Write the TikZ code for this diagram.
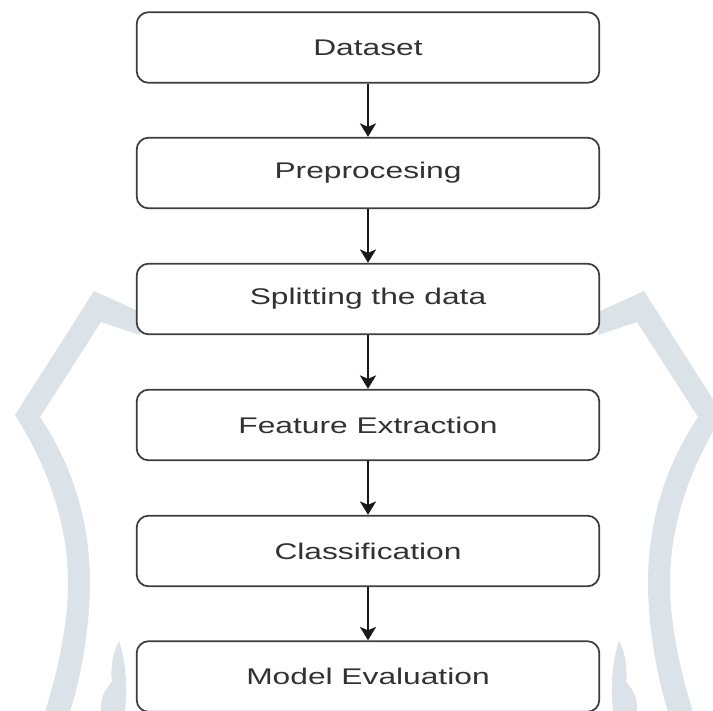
\documentclass[tikz,border=0pt]{standalone}
\usepackage{fontspec}
\setmainfont{Liberation Sans}[FakeStretch=1.4]
\usetikzlibrary{arrows.meta}

\begin{document}
\begin{tikzpicture}[x=0.75pt,y=0.75pt,yscale=-1,xscale=1,
  stage/.style={draw={rgb,255:red,60;green,60;blue,60}, line width=1.3pt, fill=white,
    rounded corners=9pt, minimum width=347pt, minimum height=53pt, inner sep=0pt,
    text={rgb,255:red,50;green,50;blue,50}, font=\fontsize{17}{20}\selectfont},
  flow/.style={draw={rgb,255:red,25;green,25;blue,25}, line width=2.2pt,
    -{Stealth[length=10pt,width=12pt,inset=2.5pt]}},
  logo/.style={fill={rgb,255:red,220;green,227;blue,232}, draw=none}]
\useasboundingbox (0,0) rectangle (713,710);

%Watermark (left half, mirrored for the right)
\foreach \side in {1,-1}{
\begin{scope}[shift={(369-369*\side,0)}, xscale=\side]
\path[logo] (140,312) -- (94,291) -- (15,415) .. controls (45,462) and (68,520) .. (68,583) .. controls (68,630) and (55,680) .. (45,712) -- (70,712) .. controls (80,680) and (90,630) .. (90,583) .. controls (90,520) and (72,465) .. (40,417) -- (101,322) -- (140,335) -- cycle ;
\path[logo] (119,641) .. controls (127,665) and (127,690) .. (125,712) -- (101,712) .. controls (100,700) and (104,690) .. (112,682) .. controls (110,668) and (113,652) .. (119,641) -- cycle ;
\end{scope}
}

%Stages
\node[stage] (data) at (368,47.5) {Dataset};
\node[stage] (prep) at (368,173) {Preprocesing};
\node[stage] (split) at (368,299) {Splitting the data};
\node[stage] (feat) at (368,425) {Feature Extraction};
\node[stage] (clas) at (368,551) {Classification};
\node[stage] (eval) at (368,676.5) {Model Evaluation};

%Arrows
\draw[flow] (data) -- (prep) ;
\draw[flow] (prep) -- (split) ;
\draw[flow] (split) -- (feat) ;
\draw[flow] (feat) -- (clas) ;
\draw[flow] (clas) -- (eval) ;

\end{tikzpicture}
\end{document}
